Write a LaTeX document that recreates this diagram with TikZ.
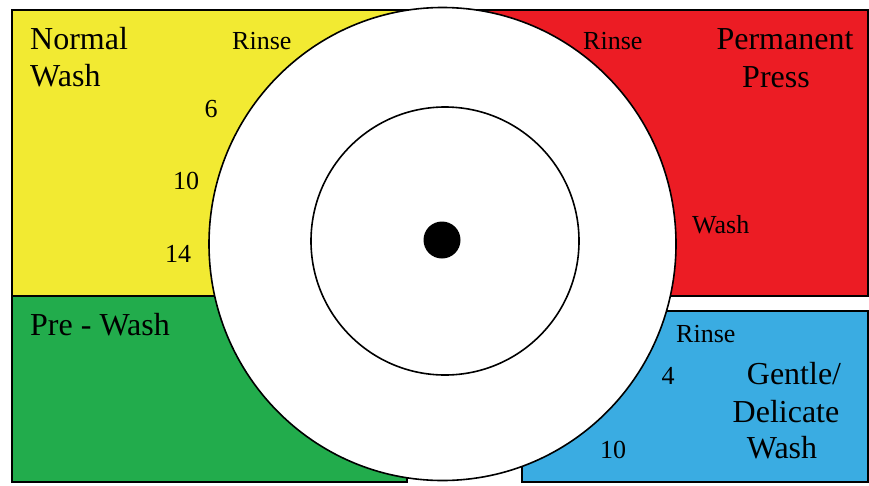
\documentclass[tikz,border=0pt]{standalone}
\usepackage{fontspec}
\usetikzlibrary{shapes.geometric}
\setmainfont{Liberation Serif}
\definecolor{pyellow}{RGB}{242,234,50}
\definecolor{pred}{RGB}{236,28,36}
\definecolor{pgreen}{RGB}{34,172,76}
\definecolor{pblue}{RGB}{58,172,226}
\tikzset{
  panel/.style={draw=black,line width=1.6pt},
  ring/.style={draw=black,line width=1.6pt,fill=white},
  big/.style={anchor=base west,inner sep=0pt,font=\fontsize{32}{36}\selectfont},
  bigc/.style={anchor=base,inner sep=0pt,font=\fontsize{32}{36}\selectfont},
  small/.style={anchor=base west,inner sep=0pt,font=\fontsize{26}{30}\selectfont},
  smallc/.style={anchor=base,inner sep=0pt,font=\fontsize{26}{30}\selectfont}
}
\begin{document}
\begin{tikzpicture}[x=1pt,y=-1pt]
\useasboundingbox (0,0) rectangle (869,485);
% panels
\filldraw[panel,fill=pyellow] (12,10) rectangle (420,296);
\filldraw[panel,fill=pgreen] (12,296) rectangle (407,482);
\filldraw[panel,fill=pred] (470,10) rectangle (868,296);
\filldraw[panel,fill=pblue] (522,311) rectangle (868,482);
% dial
\node[ring,ellipse,minimum width=467pt,minimum height=473pt,inner sep=0pt] (outer) at (442.5,244) {};
\node[ring,circle,minimum size=268pt,inner sep=0pt] (inner) at (445,241) {};
\node[circle,fill=black,minimum size=37pt,inner sep=0pt] (hub) at (442,240) {};
% yellow labels
\node[big] (nw1) at (30,49) {Normal};
\node[big] (nw2) at (30,86) {Wash};
\node[small] (yr) at (232,49) {Rinse};
\node[smallc] (y6) at (211,117) {6};
\node[smallc] (y10) at (186,189) {10};
\node[smallc] (y14) at (178,262) {14};
% green
\node[big] (pw) at (30,335) {Pre - Wash};
% red
\node[small] (rr) at (583,49) {Rinse};
\node[bigc] (pp1) at (785,49) {Permanent};
\node[bigc] (pp2) at (776,87) {Press};
\node[small] (rw) at (692,233) {Wash};
% blue
\node[small] (br) at (676,342) {Rinse};
\node[smallc] (b4) at (668,384) {4};
\node[smallc] (b10) at (613,458) {10};
\node[bigc] (g1) at (794,384) {Gentle/};
\node[bigc] (g2) at (786,422) {Delicate};
\node[bigc] (g3) at (782,458) {Wash};
\end{tikzpicture}
\end{document}
